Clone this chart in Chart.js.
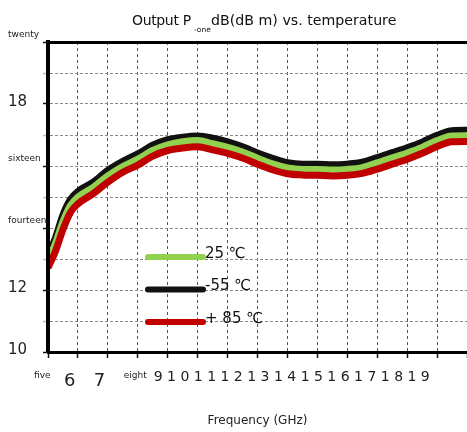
<!DOCTYPE html>
<html><head><meta charset="utf-8">
<script src="https://cdn.jsdelivr.net/npm/chart.js@4"></script>
<style>html,body{margin:0;padding:0;background:#fff}#wrap{width:467px;height:432px;position:relative}</style>
</head><body><div id="wrap"><canvas id="c"></canvas></div>
<script>
// ---- data ----
const titleMain = 'Output P';
const titleSub = '-one';
const titleRest = 'dB(dB m) vs. temperature';
const xAxisTitle = 'Frequency (GHz)';
const freqGHz = [5,5.25,5.5,5.75,6,6.5,7,7.5,8,8.5,9,9.5,10,10.5,11,11.5,12,12.5,13,13.5,14,14.5,15,15.5,16,16.5,17,17.5,18,18.5,19];
const seriesLabels = ['25 \u2103', '-55 \u2103', '+ 85 \u2103'];
const temp25 =     [12.94,13.5,14.2,14.72,15.0,15.3,15.68,15.98,16.22,16.5,16.68,16.78,16.82,16.72,16.6,16.45,16.25,16.07,15.94,15.89,15.89,15.87,15.89,15.95,16.1,16.26,16.42,16.6,16.82,16.97,16.98];
const tempMinus55 = [13.1,13.68,14.42,14.92,15.18,15.47,15.86,16.15,16.39,16.67,16.85,16.93,16.97,16.9,16.78,16.62,16.42,16.25,16.11,16.06,16.06,16.04,16.06,16.12,16.27,16.43,16.59,16.77,16.99,17.14,17.15];
const tempPlus85 = [12.72,13.25,13.95,14.5,14.78,15.1,15.48,15.8,16.03,16.32,16.5,16.58,16.62,16.52,16.41,16.26,16.06,15.88,15.75,15.71,15.7,15.68,15.7,15.76,15.9,16.06,16.22,16.41,16.63,16.78,16.79];
const xTickValues = [5,6,7,8,9,10,11,12,13,14,15,16,17,18,19];
const xTickLabels = ['five','6','7','eight','9 1 0 1 1 1 2 1 3 1 4 1 5 1 6 1 7 1 8 1 9','','','','','','','','','',''];
const yTickValues = [10,11,12,13,14,15,16,17,18,19,20];
const yTickLabels = ['10','','12','','fourteen','','sixteen','','18','','twenty'];

// ---- styles ----
const FONT = '"DejaVu Sans", sans-serif';
const colors = ['#92d050', '#111111', '#c00000'];
const drawOrder = [1, 2, 0];

function isWord(s){ return /[a-z]/.test(s); }

const overlay = {
  id: 'overlay',
  afterDraw(chart) {
    const ctx = chart.ctx, a = chart.chartArea;
    ctx.save();
    ctx.fillStyle = '#111';
    ctx.textAlign = 'left';
    ctx.textBaseline = 'alphabetic';
    // title with subscript
    ctx.font = '14px ' + FONT;
    try { ctx.letterSpacing = '-0.35px'; } catch (e) {}
    ctx.fillText(titleMain, 132, 25);
    try { ctx.letterSpacing = '0px'; } catch (e) {}
    ctx.font = '7.5px ' + FONT;
    ctx.fillText(titleSub, 194, 31.5);
    ctx.font = '14.2px ' + FONT;
    ctx.fillText(titleRest, 211, 25);
    // legend inside the plot
    chart.data.datasets.forEach((ds, i) => {
      const y = a.top + 215 + i * 32.5;
      const x0 = a.left + 100, x1 = a.left + 155;
      ctx.strokeStyle = ds.borderColor;
      ctx.lineWidth = 6;
      ctx.lineCap = 'round';
      ctx.beginPath(); ctx.moveTo(x0, y); ctx.lineTo(x1, y); ctx.stroke();
      ctx.font = '15px ' + FONT;
      ctx.fillStyle = '#111';
      ctx.textBaseline = 'middle';
      ctx.fillText(ds.label, x1 + 2, y - 3);
    });
    ctx.restore();
  }
};

const datasets = [temp25, tempMinus55, tempPlus85].map((vals, i) => ({
  label: seriesLabels[i],
  data: freqGHz.map((f, j) => ({x: f, y: vals[j]})),
  borderColor: colors[i],
  backgroundColor: colors[i],
  borderWidth: 7,
  pointRadius: 0,
  tension: 0.4,
  cubicInterpolationMode: 'monotone',
  borderJoinStyle: 'round',
  order: drawOrder[i],
  fill: false
}));

new Chart(document.getElementById('c'), {
  type: 'line',
  data: { datasets },
  plugins: [overlay],
  options: {
    responsive: true,
    maintainAspectRatio: false,
    animation: false,
    layout: { padding: { top: 42, left: 8, right: 0, bottom: 0 } },
    plugins: { legend: { display: false }, title: { display: false }, tooltip: { enabled: false } },
    scales: {
      x: {
        type: 'linear', min: 5, max: 19,
        afterBuildTicks: s => { s.ticks = xTickValues.map(v => ({value: v})); },
        afterFit: s => { s.height = 80; s.paddingLeft = 0; s.paddingRight = 0; },
        ticks: {
          autoSkip: false, maxRotation: 0, minRotation: 0,
          align: 'start', labelOffset: -14, padding: 10, color: '#222',
          callback: (v, i) => xTickLabels[i],
          font: c => {
            const s = xTickLabels[c.index] || '';
            if (isWord(s)) return { family: FONT, size: 9, lineHeight: 15 / 9 };
            if (s.length === 1) return { family: FONT, size: 18, lineHeight: 1.5 };
            return { family: FONT, size: 14, lineHeight: 19 / 14 };
          }
        },
        grid: {
          color: c => (c.tick && (c.tick.value === 5 || c.tick.value === 19)) ? 'rgba(0,0,0,0)' : '#555',
          lineWidth: 1, tickLength: 6, tickColor: '#111', tickWidth: 1.5
        },
        border: { display: true, color: '#000', width: 3, dash: [3, 3], z: 1 },
        title: { display: true, text: xAxisTitle, color: '#222', font: { family: FONT, size: 12 }, padding: { top: 0, bottom: 4 } }
      },
      y: {
        type: 'linear', min: 10, max: 20,
        afterBuildTicks: s => { s.ticks = yTickValues.map(v => ({value: v})); },
        afterFit: s => { s.width = 40; s.paddingTop = 0; s.paddingBottom = 0; },
        ticks: {
          autoSkip: false, crossAlign: 'far', color: '#222',
          callback: (v, i) => [yTickLabels[i], ''],
          font: c => {
            const s = yTickLabels[c.index] || '';
            return isWord(s) ? { family: FONT, size: 9, lineHeight: 15 / 9 } : { family: FONT, size: 15, lineHeight: 0.3 };
          }
        },
        grid: {
          color: c => (c.tick && c.tick.value === 20) ? '#000' : '#888',
          lineWidth: c => (c.tick && c.tick.value === 20) ? 3 : 1,
          tickLength: 5,
          tickColor: c => (c.tick && c.tick.value % 2 === 0) ? '#111' : '#bbb',
          tickWidth: 1.5
        },
        border: { display: true, color: '#000', width: 4, dash: c => (c.tick && c.tick.value === 20) ? [] : [3, 2], z: 1 }
      }
    }
  }
});
</script></body></html>
